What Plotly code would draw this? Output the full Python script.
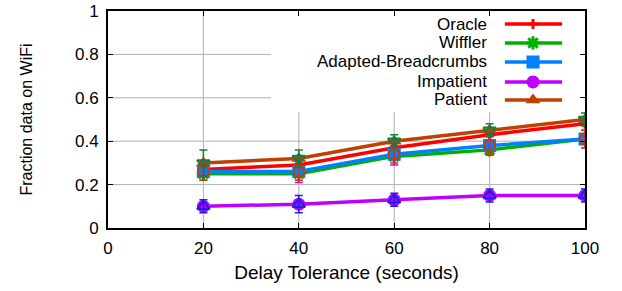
import plotly.graph_objects as go

# ---- data ----
delay = [20, 40, 60, 80, 100]
oracle = [0.27, 0.29, 0.37, 0.43, 0.48]
wiffler = [0.25, 0.25, 0.33, 0.36, 0.41]
breadcrumbs = [0.26, 0.26, 0.34, 0.38, 0.41]
impatient = [0.10, 0.11, 0.13, 0.15, 0.15]
patient = [0.30, 0.32, 0.40, 0.45, 0.50]

err_patient = [0.06, 0.04, 0.03, 0.03, 0.03]
err_breadcrumbs_a = [0.04, 0.04, 0.04, 0.04, 0.04]
err_breadcrumbs_b = [0.04, 0.05, 0.05, 0.045, 0.04]
err_impatient = [0.03, 0.04, 0.03, 0.03, 0.03]

x_ticks = [0, 20, 40, 60, 80, 100]
y_ticks = [0, 0.2, 0.4, 0.6, 0.8, 1]

series_names = ["Oracle", "Wiffler", "Adapted-Breadcrumbs", "Impatient", "Patient"]
series_values = [oracle, wiffler, breadcrumbs, impatient, patient]

colors = ["#ff0000", "#00b000", "#0080ff", "#c000ff", "#c04000"]
symbols = ["cross-thin-open", "asterisk-open", "square", "circle", "triangle-up"]
sizes = [7, 11, 13, 13, 13]
FONT = "Liberation Sans, Arial, sans-serif"

fig = go.Figure()

for name, vals, c, s, sz in zip(series_names, series_values, colors, symbols, sizes):
    mk = dict(symbol=s, size=sz, color=c)
    if s.endswith("open"):
        mk["line"] = dict(color=c, width=3)
    fig.add_trace(go.Scatter(x=delay, y=vals, mode="lines+markers", name=name,
                             line=dict(color=c, width=3.5), marker=mk,
                             showlegend=False))

# error-bar overlays
fig.add_trace(go.Scatter(x=delay, y=breadcrumbs, mode="markers", showlegend=False,
                         marker=dict(size=0.1, color="#e000e0"),
                         error_y=dict(type="data", array=err_breadcrumbs_b,
                                      color="#e000e0", thickness=1.5, width=4)))
fig.add_trace(go.Scatter(x=delay, y=breadcrumbs, mode="markers", showlegend=False,
                         marker=dict(symbol="circle-open", size=11, color="#c04000",
                                     line=dict(color="#c04000", width=2)),
                         error_y=dict(type="data", array=err_breadcrumbs_a,
                                      color="#c04000", thickness=1.5, width=4)))
fig.add_trace(go.Scatter(x=delay, y=patient, mode="markers", showlegend=False,
                         marker=dict(symbol="triangle-down-open", size=11, color="#108040",
                                     line=dict(color="#108040", width=2)),
                         error_y=dict(type="data", array=err_patient,
                                      color="#108040", thickness=1.5, width=4)))
fig.add_trace(go.Scatter(x=delay, y=impatient, mode="markers", showlegend=False,
                         marker=dict(symbol="triangle-up-open", size=11, color="#2020e0",
                                     line=dict(color="#2020e0", width=2)),
                         error_y=dict(type="data", array=err_impatient,
                                      color="#2020e0", thickness=1.5, width=4)))

# ---- custom legend (text left, sample right), on an overlay axis in [0,1] ----
row_y = [0.940, 0.853, 0.765, 0.673, 0.590]
text_x = 0.797
line_x0, line_x1, mark_x = 0.832, 0.952, 0.891
annotations = []
for name, c, s, sz, ry in zip(series_names, colors, symbols, sizes, row_y):
    mk = dict(symbol=s, size=sz, color=c)
    if s.endswith("open"):
        mk["line"] = dict(color=c, width=3)
    fig.add_trace(go.Scatter(x=[line_x0, line_x1], y=[ry, ry], mode="lines",
                             line=dict(color=c, width=3.5), xaxis="x2", yaxis="y2",
                             showlegend=False, hoverinfo="skip"))
    fig.add_trace(go.Scatter(x=[mark_x], y=[ry], mode="markers", marker=mk,
                             xaxis="x2", yaxis="y2", showlegend=False, hoverinfo="skip"))
    annotations.append(dict(x=text_x, y=ry, xref="paper", yref="paper", text=name,
                            showarrow=False, xanchor="right", yanchor="middle",
                            borderpad=0,
                            font=dict(family=FONT, size=17, color="#000")))

# ---- grid lines as shapes below a white legend box ----
GRID = "#b0b0b0"
shapes = []
for v in x_ticks[1:-1]:
    shapes.append(dict(type="line", xref="x", yref="paper", x0=v, x1=v, y0=0, y1=1,
                       line=dict(color=GRID, width=1), layer="below"))
for v in y_ticks[1:-1]:
    shapes.append(dict(type="line", xref="paper", yref="y", x0=0, x1=1, y0=v, y1=v,
                       line=dict(color=GRID, width=1), layer="below"))
shapes.append(dict(type="rect", xref="paper", yref="paper", x0=0.342, x1=1.0,
                   y0=0.535, y1=1.0, fillcolor="white", line=dict(width=0),
                   layer="below"))

axis_common = dict(showline=True, linecolor="#000", linewidth=2, mirror="ticks",
                   ticks="inside", ticklen=5, tickwidth=1, tickcolor="#000",
                   showgrid=False, zeroline=False, automargin=False,
                   ticklabeloverflow="allow",
                   tickfont=dict(family=FONT, size=17, color="#000"))

fig.update_layout(
    width=622, height=291,
    margin=dict(l=108, r=37, t=11, b=63, autoexpand=False),
    paper_bgcolor="white", plot_bgcolor="white",
    showlegend=False,
    xaxis=dict(range=[0, 100], tickvals=x_ticks, ticklabelstandoff=4, **axis_common,
               title=dict(text="Delay Tolerance (seconds)", standoff=8,
                          font=dict(family=FONT, size=19, color="#000"))),
    yaxis=dict(range=[0, 1], tickvals=y_ticks, ticktext=[f"{v:g}" for v in y_ticks],
               ticklabelstandoff=4, **axis_common,
               title=dict(text="Fraction data on WiFi", standoff=38,
                          font=dict(family=FONT, size=16, color="#000"))),
    xaxis2=dict(range=[0, 1], overlaying="x", visible=False, fixedrange=True),
    yaxis2=dict(range=[0, 1], overlaying="y", visible=False, fixedrange=True),
    shapes=shapes,
    annotations=annotations,
)

fig.write_html("out.html", config={"displayModeBar": False},
               post_script="document.body.style.margin='0';")
